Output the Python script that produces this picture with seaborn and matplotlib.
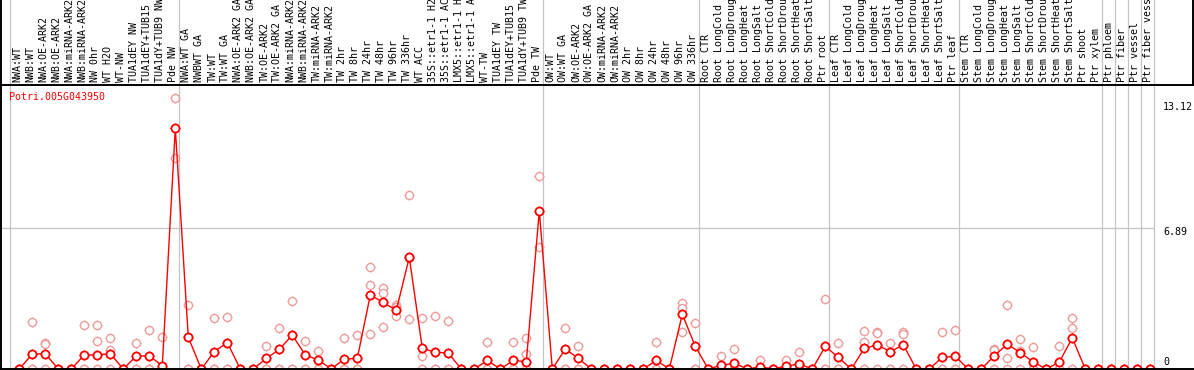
import numpy as np
import pandas as pd
import matplotlib
matplotlib.use("Agg")
import matplotlib.pyplot as plt
from matplotlib.lines import Line2D
import matplotlib.transforms as mtransforms
import seaborn as sns

gene = "Potri.005G043950"

samples = [
    "NWA:WT", "NWB:WT", "NWA:OE-ARK2", "NWB:OE-ARK2", "NWA:miRNA-ARK2", "NWB:miRNA-ARK2",
    "NW 0hr", "WT H2O", "WT-NW", "TUA1dEY NW", "TUA1dEY+TUB15 NW", "TUA1dY+TUB9 NW", "Pde NW",
    "NWA:WT GA", "NWBWT GA", "TW:WT", "TW:WT GA", "NWA:OE-ARK2 GA", "NWB:OE-ARK2 GA",
    "TW:OE-ARK2", "TW:OE-ARK2 GA", "NWA:miRNA-ARK2", "NWB:miRNA-ARK2", "TW:miRNA-ARK2",
    "TW:miRNA-ARK2", "TW 2hr", "TW 8hr", "TW 24hr", "TW 48hr", "TW 96hr", "TW 336hr",
    "WT ACC", "35S::etr1-1 H2O", "35S::etr1-1 ACC", "LMX5::etr1-1 H2O", "LMX5::etr1-1 ACC",
    "WT-TW", "TUA1dEY TW", "TUA1dEY+TUB15 TW", "TUA1dY+TUB9 TW", "Pde TW",
    "OW:WT", "OW:WT GA", "OW:OE-ARK2", "OW:OE-ARK2 GA", "OW:miRNA-ARK2", "OW:miRNA-ARK2",
    "OW 2hr", "OW 8hr", "OW 24hr", "OW 48hr", "OW 96hr", "OW 336hr",
    "Root CTR", "Root LongCold", "Root LongDrought", "Root LongHeat", "Root LongSalt",
    "Root ShortCold", "Root ShortDrought", "Root ShortHeat", "Root ShortSalt", "Ptr root",
    "Leaf CTR", "Leaf LongCold", "Leaf LongDrought", "Leaf LongHeat", "Leaf LongSalt",
    "Leaf ShortCold", "Leaf ShortDrought", "Leaf ShortHeat", "Leaf ShortSalt", "Ptr leaf",
    "Stem CTR", "Stem LongCold", "Stem LongDrought", "Stem LongHeat", "Stem LongSalt",
    "Stem ShortCold", "Stem ShortDrought", "Stem ShortHeat", "Stem ShortSalt", "Ptr shoot",
    "Ptr xylem", "Ptr phloem", "Ptr fiber", "Ptr vessel", "Ptr fiber vessel",
]

# index of first sample of each group (group separators)
group_starts = [0, 13, 41, 53, 63, 73, 84, 85, 86, 87, 88]

mean_expr = [
    0, 0.73, 0.75, 0, 0, 0.69, 0.69, 0.75, 0, 0.64, 0.64, 0.16, 11.79,
    1.55, 0, 0.85, 1.29, 0, 0, 0.52, 0.96, 1.66, 0.69, 0.44, 0, 0.49, 0.52,
    3.62, 3.26, 2.87, 5.47, 1.01, 0.82, 0.78, 0, 0, 0.42, 0, 0.42, 0.36, 7.74,
    0, 0.98, 0.52, 0, 0, 0, 0, 0, 0.42, 0, 2.68, 1.11,
    0, 0.18, 0.28, 0, 0.11, 0, 0.15, 0.24, 0, 1.11,
    0.57, 0, 1.01, 1.18, 0.85, 1.18, 0, 0, 0.57, 0.62,
    0, 0, 0.64, 1.22, 0.80, 0.34, 0, 0.34, 1.52, 0,
    0, 0, 0, 0, 0,
]

rep1 = [
    0, 2.29, 1.29, 0, 0, 2.15, 2.15, 1.50, 0, 1.26, 1.89, 1.55, 13.26,
    3.13, 0, 2.48, 2.56, 0, 0, 1.13, 2.02, 3.33, 1.37, 0.90, 0, 1.50, 1.66,
    4.98, 3.95, 3.13, 8.52, 2.48, 2.60, 2.33, 0, 0, 1.31, 0, 1.33, 1.50, 9.45,
    0, 1.99, 1.13, 0, 0, 0, 0, 0, 1.33, 0, 3.22, 2.25,
    0, 0.65, 0.98, 0, 0.44, 0, 0.44, 0.83, 0, 3.41,
    1.28, 0, 1.86, 1.80, 1.28, 1.80, 0, 0, 1.80, 1.89,
    0, 0, 1.00, 3.12, 1.45, 1.06, 0, 1.13, 2.48, 0,
    0, 0, 0, 0, 0,
]

rep2 = [
    0, 0, 1.20, 0, 0, 0, 1.37, 0.93, 0, 0, 0, 0, 10.32,
    0, 0, 0, 0, 0, 0, 0, 0, 0, 0, 0, 0, 0, 0,
    4.11, 3.71, 3.05, 5.46, 0.65, 0, 0, 0, 0, 0, 0, 0, 0.72, 5.99,
    0, 0, 0, 0, 0, 0, 0, 0, 0, 0, 3.00, 0,
    0, 0, 0, 0, 0, 0, 0, 0, 0, 0,
    0, 0, 1.34, 1.75, 0, 1.70, 0, 0, 0, 0,
    0, 0, 0.93, 0.52, 0.90, 0, 0, 0, 2.00, 0,
    0, 0, 0, 0, 0,
]

rep3 = [
    0, 0, 0, 0, 0, 0, 0, 0, 0, 0, 0, 0, np.nan,
    0, 0, 0, 0, 0, 0, 0, 0, 0, 0, 0, 0, 0, 0,
    1.71, 2.04, 2.61, 2.43, 0, 0, 0, 0, 0, 0, 0, 0, 0, np.nan,
    0, 0, 0, 0, 0, 0, 0, 0, 0, 0, 1.81, 0,
    0, 0, 0, 0, 0, 0, 0, 0, 0, 0,
    0, 0, 0, 0, 0, 0, 0, 0, 0, 0,
    0, 0, 0, 0, 0, 0, 0, 0, 0, 0,
    0, 0, 0, 0, 0,
]

y_ticks = [0, 6.89, 13.12]
y_tick_labels = ["0", "6.89", "13.12"]

# ---------------------------------------------------------------- figure
W, H = 1194, 370
PX_LEFT = 19.3      # pixel of first sample
PX_STEP = 13.0      # pixel step between samples
PX_BOTTOM = 369     # pixel row of value 0
PX_TOP = 85         # pixel row of top frame
SCALE = 20.42       # pixels per unit

sns.set_theme(style="white")
plt.rcParams["font.family"] = ["DejaVu Sans Mono", "DejaVu Sans"]
FS = 7.2

fig = plt.figure(figsize=(W / 100, H / 100), dpi=100)
fig.patch.set_facecolor("white")
ax = fig.add_axes([0, (H - PX_BOTTOM) / H, 1, (PX_BOTTOM - PX_TOP) / H])
ax.set_facecolor("white")
for s in ax.spines.values():
    s.set_visible(False)
ax.set_xticks([])
ax.set_yticks([])
ax.set_xlim(-PX_LEFT / PX_STEP, (W - PX_LEFT) / PX_STEP)
ax.set_ylim(0, (PX_BOTTOM - PX_TOP) / SCALE)

n = len(samples)
idx = np.arange(n)

# grid lines (group separators run through the header too)
header_frac = (PX_BOTTOM - 0) / (PX_BOTTOM - PX_TOP)
for g in group_starts:
    ax.axvline(g - 9.3 / PX_STEP, ymin=0, ymax=header_frac, color="#c4c4c4",
               lw=0.9, clip_on=False, zorder=1)
ax.hlines(y_ticks[1], -1.4, group_starts[-1] - 9.3 / PX_STEP, color="#c4c4c4",
          lw=0.9, zorder=1)

# replicate points
rep_df = pd.DataFrame({
    "x": np.concatenate([idx, idx, idx]),
    "y": np.concatenate([rep1, rep2, rep3]),
}).dropna()
pink = "#ee9a9a"
sns.scatterplot(data=rep_df, x="x", y="y", ax=ax, marker="+", s=60, color=pink,
                linewidth=0.8, clip_on=False, zorder=3, legend=False)
sns.scatterplot(data=rep_df, x="x", y="y", ax=ax, marker="o", s=34, facecolor="white",
                edgecolor=pink, linewidth=1.0, clip_on=False, zorder=3.5, legend=False)

# mean line and markers
mean_df = pd.DataFrame({"x": idx, "y": mean_expr})
sns.lineplot(data=mean_df, x="x", y="y", ax=ax, color="#ff0000", lw=1.0,
             zorder=4, legend=False)
sns.scatterplot(data=mean_df, x="x", y="y", ax=ax, marker="+", s=60, color="#ff0000",
                linewidth=0.9, clip_on=False, zorder=5, legend=False)
sns.scatterplot(data=mean_df, x="x", y="y", ax=ax, marker="o", s=34, facecolor="white",
                edgecolor="#ff0000", linewidth=1.3, clip_on=False, zorder=6, legend=False)
ax.set_xlabel("")
ax.set_ylabel("")

# column labels in the header
trans_lab = mtransforms.blended_transform_factory(ax.transData, ax.transAxes)
lab_y = (PX_BOTTOM - 82) / (PX_BOTTOM - PX_TOP)
for i, lab in enumerate(samples):
    ax.text(i - 0.14, lab_y, lab, rotation=90, ha="center", va="bottom",
            fontsize=FS, color="black", transform=trans_lab, clip_on=False)

# gene name
ax.text((9 - PX_LEFT) / PX_STEP, (PX_BOTTOM - 97) / (PX_BOTTOM - PX_TOP), gene,
        ha="left", va="center", fontsize=FS, color="#ff0000", transform=trans_lab)

# y value labels on the right
tick_px = {"0": 362, "6.89": 232, "13.12": 107}
for v, t in zip(y_ticks, y_tick_labels):
    ax.text((1163 - PX_LEFT) / PX_STEP, (PX_BOTTOM - tick_px[t]) / SCALE, t,
            ha="left", va="center", fontsize=FS, color="black", clip_on=False)

# frame lines
def fline(x0, y0, x1, y1, lw=1.4):
    fig.add_artist(Line2D([x0 / W, x1 / W], [1 - y0 / H, 1 - y1 / H],
                          transform=fig.transFigure, color="black", lw=lw))

fline(1.2, 0, 1.2, H)
fline(0, 85, W, 85)
fline(0, 369.3, W, 369.3)
fline(1192.8, 0, 1192.8, 85)

fig.savefig("out.png", dpi=100)
